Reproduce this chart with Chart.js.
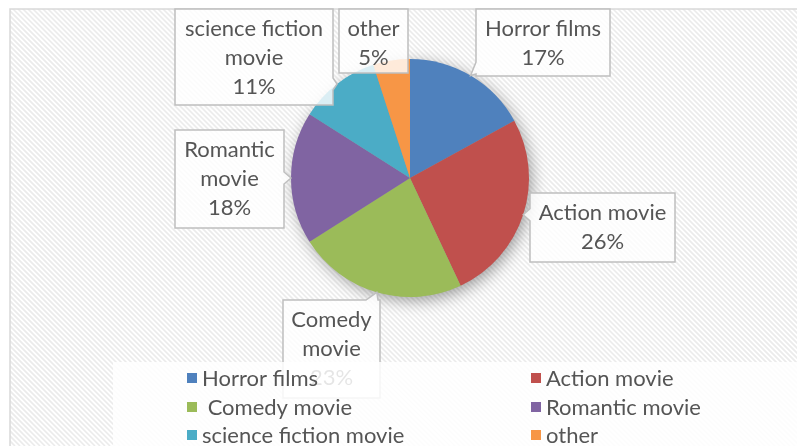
<!DOCTYPE html>
<html>
<head>
<meta charset="utf-8">
<script src="https://cdn.jsdelivr.net/npm/chart.js@4.4.0/dist/chart.umd.min.js"></script>
<style>
  html, body { margin: 0; padding: 0; background: #fff; }
  #wrap { width: 797px; height: 446px; }
</style>
</head>
<body>
<div id="wrap"><canvas id="myChart" width="797" height="446"></canvas></div>
<script>
// data
const categories = ['Horror films', 'Action movie', 'Comedy movie', 'Romantic movie', 'science fiction movie', 'other'];
const shares = [17, 26, 23, 18, 11, 5];
const calloutLines = [['Horror films'], ['Action movie'], ['Comedy', 'movie'], ['Romantic', 'movie'], ['science fiction', 'movie'], ['other']];
const legendLabels = ['Horror films', 'Action movie', ' Comedy movie', 'Romantic movie', 'science fiction movie', 'other'];

// look
const colors = ['#4F81BD', '#C0504D', '#9BBB59', '#8064A2', '#4BACC6', '#F79646'];
const calloutBoxes = [
    { x: 476, y: 9, w: 134, h: 67 },
    { x: 530, y: 193, w: 145, h: 69 },
    { x: 283, y: 300, w: 97, h: 98 },
    { x: 175, y: 130, w: 109, h: 98 },
    { x: 175, y: 9, w: 158, h: 96 },
    { x: 339, y: 9, w: 69, h: 64 }
];
const FONT = '22px Lato, "Open Sans", sans-serif';
const TEXT = '#555555';

const backdrop = {
    id: 'backdrop',
    beforeDraw(chart) {
        const ctx = chart.ctx;
        ctx.save();
        ctx.fillStyle = '#fff';
        ctx.fillRect(0, 0, chart.width, chart.height);
        ctx.beginPath();
        ctx.rect(10, 9, chart.width, chart.height);
        ctx.clip();
        ctx.strokeStyle = '#ebebeb';
        ctx.lineWidth = 1.6;
        for (let k = -chart.height; k < chart.width; k += 5) {
            ctx.beginPath();
            ctx.moveTo(k, 0);
            ctx.lineTo(k + chart.height, chart.height);
            ctx.stroke();
        }
        ctx.restore();
        ctx.save();
        ctx.strokeStyle = '#d9d9d9';
        ctx.lineWidth = 1.5;
        ctx.strokeRect(10, 9, chart.width + 20, chart.height + 20);
        ctx.restore();
    },
    beforeDatasetsDraw(chart) {
        const arc = chart.getDatasetMeta(0).data[0];
        if (!arc) return;
        const ctx = chart.ctx;
        ctx.save();
        ctx.shadowColor = 'rgba(0,0,0,0.4)';
        ctx.shadowBlur = 16;
        ctx.shadowOffsetX = 3;
        ctx.shadowOffsetY = 4;
        ctx.fillStyle = '#999';
        ctx.beginPath();
        ctx.arc(arc.x, arc.y, arc.outerRadius - 1, 0, Math.PI * 2);
        ctx.fill();
        ctx.restore();
    }
};

function calloutPath(ctx, b, ax, ay) {
    const x0 = b.x, y0 = b.y, x1 = b.x + b.w, y1 = b.y + b.h;
    const inside = ax >= x0 && ax <= x1 && ay >= y0 && ay <= y1;
    let side = null;
    if (!inside) {
        const d = { left: x0 - ax, right: ax - x1, top: y0 - ay, bottom: ay - y1 };
        side = Object.keys(d).reduce((a, k) => d[k] > d[a] ? k : a, 'left');
    }
    const cx = Math.min(Math.max(ax, x0 + 8), x1 - 8);
    const cy = Math.min(Math.max(ay, y0 + 8), y1 - 8);
    ctx.beginPath();
    ctx.moveTo(x0, y0);
    if (side === 'top') { ctx.lineTo(cx - 6, y0); ctx.lineTo(ax, ay); ctx.lineTo(cx + 6, y0); }
    ctx.lineTo(x1, y0);
    if (side === 'right') { ctx.lineTo(x1, cy - 6); ctx.lineTo(ax, ay); ctx.lineTo(x1, cy + 6); }
    ctx.lineTo(x1, y1);
    if (side === 'bottom') { ctx.lineTo(cx + 6, y1); ctx.lineTo(ax, ay); ctx.lineTo(cx - 6, y1); }
    ctx.lineTo(x0, y1);
    if (side === 'left') { ctx.lineTo(x0, cy + 6); ctx.lineTo(ax, ay); ctx.lineTo(x0, cy - 6); }
    ctx.closePath();
}

const callouts = {
    id: 'callouts',
    afterDatasetsDraw(chart) {
        const ctx = chart.ctx;
        const arcs = chart.getDatasetMeta(0).data;
        const total = shares.reduce((a, v) => a + v, 0);
        arcs.forEach((arc, i) => {
            const mid = (arc.startAngle + arc.endAngle) / 2;
            const ax = arc.x + Math.cos(mid) * arc.outerRadius;
            const ay = arc.y + Math.sin(mid) * arc.outerRadius;
            const b = calloutBoxes[i];
            ctx.save();
            calloutPath(ctx, b, ax, ay);
            ctx.fillStyle = 'rgba(255,255,255,0.8)';
            ctx.fill();
            ctx.strokeStyle = '#bfbfbf';
            ctx.lineWidth = 1.5;
            ctx.stroke();
            ctx.font = FONT;
            ctx.fillStyle = TEXT;
            ctx.textAlign = 'center';
            ctx.textBaseline = 'middle';
            const lines = calloutLines[i].concat([Math.round(shares[i] / total * 100) + '%']);
            lines.forEach((t, j) => ctx.fillText(t, b.x + b.w / 2, b.y + 20 + j * 29));
            ctx.restore();
        });
    },
    afterDraw(chart) {
        const ctx = chart.ctx;
        ctx.save();
        ctx.fillStyle = 'rgba(255,255,255,0.85)';
        ctx.fillRect(113, 362, chart.width - 113, chart.height - 362);
        ctx.font = FONT;
        ctx.textBaseline = 'middle';
        ctx.textAlign = 'left';
        const colX = [187, 531];
        const rowY = [378, 407, 435];
        legendLabels.forEach((t, i) => {
            const x = colX[i % 2], y = rowY[Math.floor(i / 2)];
            ctx.fillStyle = colors[i];
            ctx.fillRect(x, y - 5, 10, 10);
            ctx.fillStyle = TEXT;
            ctx.fillText(t, x + 15, y + 1);
        });
        ctx.restore();
    }
};

new Chart(
    document.getElementById('myChart'),
    {
        type: 'pie',
        data: {
            labels: categories,
            datasets: [{
                data: shares,
                backgroundColor: colors,
                borderWidth: 0,
                hoverBorderWidth: 0,
                hoverOffset: 0,
            }]
        },
        options: {
            responsive: false,
            animation: false,
            events: [],
            layout: { padding: { left: 23, top: 59, right: 0, bottom: 149 } },
            plugins: {
                legend: { display: false },
                tooltip: { enabled: false },
            },
        },
        plugins: [backdrop, callouts],
    }
);
</script>
</body>
</html>
